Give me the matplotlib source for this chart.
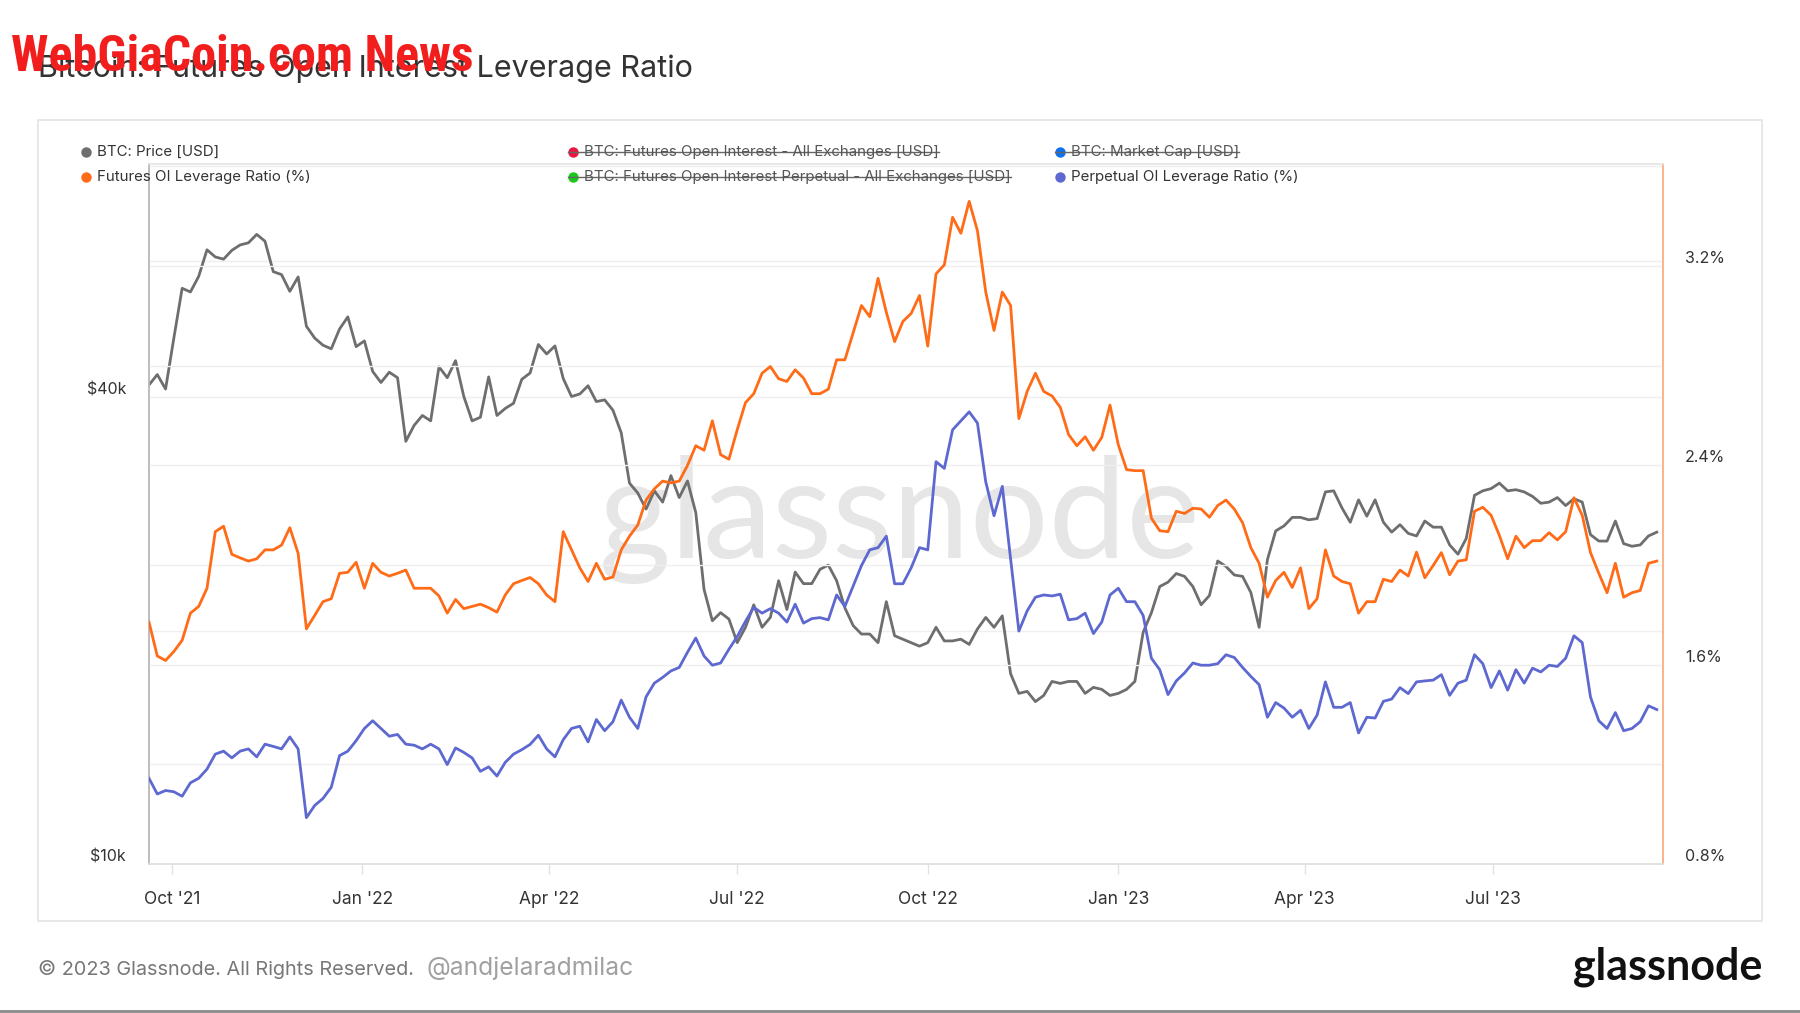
import numpy as np
import pandas as pd
import matplotlib as mpl
import matplotlib.pyplot as plt
from matplotlib.patches import Rectangle
from matplotlib.ticker import NullLocator

mpl.rcParams['font.family'] = ['Inter', 'DejaVu Sans']

# values, one sample every 4 days (2021-09-20 .. 2023-09-18)
dates = pd.date_range('2021-09-20', periods=183, freq='4D')

# BTC price [k USD]
price_k = [
    41.5, 42.8, 41.0, 47.7, 55.3, 54.7, 57.3, 62.0, 60.7, 60.3,
    61.9, 62.9, 63.3, 64.9, 63.6, 58.1, 57.6, 54.8, 57.2, 49.4,
    47.7, 46.7, 46.2, 49.0, 50.8, 46.5, 47.3, 43.2, 41.8, 43.1,
    42.4, 35.1, 36.8, 37.9, 37.3, 43.8, 42.4, 44.6, 40.1, 37.3,
    37.7, 42.5, 37.9, 38.7, 39.3, 42.2, 43.0, 46.8, 45.5, 46.6,
    42.3, 40.1, 40.4, 41.4, 39.5, 39.7, 38.5, 36.0, 31.0, 30.1,
    28.7, 30.3, 29.3, 31.7, 29.7, 31.2, 28.4, 22.6, 20.6, 21.1,
    20.7, 19.3, 20.2, 21.6, 20.2, 20.8, 23.2, 21.3, 23.8, 23.0,
    23.0, 24.0, 24.3, 23.2, 21.4, 20.3, 19.8, 19.8, 19.3, 21.8,
    19.7, 19.5, 19.3, 19.1, 19.3, 20.2, 19.4, 19.4, 19.5, 19.2,
    20.1, 20.8, 20.2, 20.9, 17.6, 16.6, 16.7, 16.2, 16.5, 17.2,
    17.1, 17.2, 17.2, 16.6, 16.9, 16.8, 16.5, 16.6, 16.8, 17.2,
    19.9, 21.1, 22.8, 23.1, 23.7, 23.5, 22.8, 21.6, 22.2, 24.6,
    24.2, 23.6, 23.5, 22.4, 20.2, 24.7, 26.9, 27.3, 28.0, 28.0,
    27.8, 27.9, 30.2, 30.3, 28.8, 27.6, 29.5, 28.1, 29.5, 27.6,
    26.8, 27.4, 26.7, 26.5, 27.7, 27.2, 27.2, 25.8, 25.1, 26.3,
    29.9, 30.3, 30.5, 31.0, 30.3, 30.4, 30.2, 29.8, 29.2, 29.3,
    29.7, 29.0, 29.6, 29.3, 26.6, 26.1, 26.1, 27.7, 25.9, 25.7,
    25.8, 26.5, 26.8,
]

# Futures OI Leverage Ratio [%]
futures_ratio = [
    1.771, 1.635, 1.617, 1.653, 1.698, 1.807, 1.834, 1.907, 2.134, 2.156,
    2.043, 2.029, 2.016, 2.025, 2.061, 2.061, 2.080, 2.150, 2.047, 1.744,
    1.798, 1.853, 1.865, 1.967, 1.971, 2.011, 1.907, 2.007, 1.971, 1.956,
    1.967, 1.980, 1.907, 1.907, 1.907, 1.876, 1.807, 1.862, 1.825, 1.834,
    1.843, 1.829, 1.811, 1.880, 1.925, 1.938, 1.950, 1.925, 1.880, 1.853,
    2.134, 2.061, 1.989, 1.934, 2.007, 1.943, 1.952, 2.061, 2.116, 2.161,
    2.261, 2.306, 2.337, 2.330, 2.337, 2.400, 2.479, 2.461, 2.579, 2.443,
    2.425, 2.543, 2.652, 2.688, 2.770, 2.797, 2.748, 2.737, 2.784, 2.751,
    2.688, 2.688, 2.706, 2.824, 2.824, 2.933, 3.042, 2.997, 3.151, 3.015,
    2.897, 2.978, 3.010, 3.082, 2.879, 3.169, 3.205, 3.396, 3.332, 3.460,
    3.342, 3.096, 2.942, 3.096, 3.042, 2.588, 2.697, 2.770, 2.697, 2.679,
    2.633, 2.524, 2.479, 2.515, 2.461, 2.512, 2.642, 2.483, 2.383, 2.379,
    2.379, 2.188, 2.138, 2.134, 2.216, 2.207, 2.228, 2.225, 2.192, 2.239,
    2.261, 2.225, 2.170, 2.070, 2.007, 1.871, 1.938, 1.971, 1.910, 1.989,
    1.825, 1.865, 2.061, 1.956, 1.934, 1.925, 1.807, 1.853, 1.853, 1.943,
    1.934, 1.980, 1.956, 2.052, 1.949, 1.998, 2.050, 1.961, 2.016, 2.021,
    2.216, 2.232, 2.200, 2.119, 2.025, 2.116, 2.070, 2.098, 2.098, 2.130,
    2.101, 2.134, 2.270, 2.200, 2.050, 1.967, 1.889, 2.007, 1.871, 1.889,
    1.898, 2.007, 2.016,
]

# Perpetual OI Leverage Ratio [%]
perp_ratio = [
    1.144, 1.081, 1.095, 1.090, 1.072, 1.126, 1.144, 1.181, 1.241, 1.253,
    1.226, 1.253, 1.262, 1.230, 1.281, 1.272, 1.262, 1.310, 1.262, 0.986,
    1.035, 1.063, 1.108, 1.235, 1.253, 1.295, 1.344, 1.375, 1.344, 1.313,
    1.320, 1.281, 1.277, 1.262, 1.281, 1.262, 1.199, 1.266, 1.248, 1.226,
    1.172, 1.190, 1.153, 1.208, 1.241, 1.259, 1.280, 1.317, 1.262, 1.230,
    1.299, 1.344, 1.353, 1.290, 1.380, 1.335, 1.371, 1.458, 1.389, 1.344,
    1.471, 1.526, 1.549, 1.575, 1.589, 1.650, 1.707, 1.635, 1.598, 1.607,
    1.662, 1.713, 1.774, 1.830, 1.807, 1.825, 1.807, 1.771, 1.843, 1.767,
    1.785, 1.789, 1.780, 1.880, 1.834, 1.916, 1.998, 2.061, 2.070, 2.116,
    1.925, 1.925, 1.989, 2.070, 2.061, 2.415, 2.388, 2.543, 2.579, 2.615,
    2.570, 2.334, 2.198, 2.316, 2.025, 1.735, 1.816, 1.871, 1.880, 1.876,
    1.883, 1.780, 1.785, 1.807, 1.725, 1.771, 1.880, 1.907, 1.853, 1.853,
    1.798, 1.626, 1.580, 1.480, 1.535, 1.567, 1.607, 1.598, 1.598, 1.604,
    1.640, 1.629, 1.589, 1.553, 1.520, 1.389, 1.448, 1.426, 1.389, 1.417,
    1.344, 1.398, 1.531, 1.429, 1.429, 1.448, 1.326, 1.389, 1.386, 1.453,
    1.462, 1.508, 1.484, 1.531, 1.535, 1.538, 1.560, 1.477, 1.526, 1.538,
    1.640, 1.604, 1.508, 1.575, 1.498, 1.580, 1.526, 1.586, 1.571, 1.598,
    1.593, 1.626, 1.716, 1.689, 1.470, 1.375, 1.344, 1.408, 1.335, 1.344,
    1.371, 1.435, 1.420,
]

xtick_dates = pd.to_datetime(['2021-10-01', '2022-01-01', '2022-04-01', '2022-07-01',
                              '2022-10-01', '2023-01-01', '2023-04-01', '2023-07-01'])
xtick_labels = ["Oct '21", "Jan '22", "Apr '22", "Jul '22",
                "Oct '22", "Jan '23", "Apr '23", "Jul '23"]
price_ticks = [10, 20, 40, 60]
price_labels = ['$10k', '', '$40k', '']
pct_ticks = [0.8, 1.2, 1.6, 2.0, 2.4, 2.8, 3.2, 3.6]
pct_labels = ['0.8%', '', '1.6%', '', '2.4%', '', '3.2%', '']

legend_items = [
    ('BTC: Price [USD]', '#6e6e6e', False),
    ('Futures OI Leverage Ratio (%)', '#ff6b17', False),
    ('BTC: Futures Open Interest - All Exchanges [USD]', '#e8173f', True),
    ('BTC: Futures Open Interest Perpetual - All Exchanges [USD]', '#19c819', True),
    ('BTC: Market Cap [USD]', '#1170f0', True),
    ('Perpetual OI Leverage Ratio (%)', '#5d68d0', False),
]

c_price = '#6e6e6e'
c_fut = '#ff6b17'
c_perp = '#5d68d0'
grid_c = '#efefef'
W, H = 1800, 1013

fig = plt.figure(figsize=(18, 10.13), dpi=100)
fig.patch.set_facecolor('white')

ax = fig.add_axes([149 / W, 1 - 864 / H, (1663 - 149) / W, (864 - 164) / H])
ax2 = ax.twinx()

# glassnode watermark behind the lines
ax.text(0.5, 1 - 558 / H, 'glassnode', transform=fig.transFigure, ha='center',
        va='baseline', fontsize=100, color='#e6e6e6', family=['Lato', 'DejaVu Sans'], zorder=0)

ax.plot(dates, price_k, color=c_price, lw=2.0, zorder=3)
ax2.plot(dates, futures_ratio, color=c_fut, lw=2.0, zorder=3)
ax2.plot(dates, perp_ratio, color=c_perp, lw=2.0, zorder=3)

ax.set_yscale('log')
ax.set_ylim(10, 80)
ax.set_yticks(price_ticks)
ax.set_yticklabels(price_labels)
ax.yaxis.set_minor_locator(NullLocator())
ax2.set_ylim(0.8, 3.61)
ax2.set_yticks(pct_ticks)
ax2.set_yticklabels(pct_labels)
ax.set_xlim(pd.Timestamp('2021-09-20'), pd.Timestamp('2023-09-21'))
ax.set_xticks(xtick_dates)
ax.set_xticklabels(xtick_labels)

ax.grid(axis='y', color=grid_c, lw=1.0)
ax2.grid(axis='y', color=grid_c, lw=1.0)
ax.set_axisbelow(True)
ax2.set_axisbelow(True)

ax.tick_params(axis='y', length=0, pad=16.5, labelsize=11.5, labelcolor='#333333')
ax2.tick_params(axis='y', length=0, pad=16, labelsize=11.5, labelcolor='#333333')
ax.tick_params(axis='x', length=7, width=1, color='#e2e2e2', pad=12.5, labelsize=12.5,
               labelcolor='#333333')
for t in ax.get_yticklabels() + ax2.get_yticklabels():
    t.set_va('bottom')

for a in (ax, ax2):
    a.spines['top'].set_color('#e8e8e8')
    a.spines['bottom'].set_color('#e2e2e2')
    a.spines['left'].set_color('#bdbdbd')
    a.spines['right'].set_color('#f9b48a')
    for s in a.spines.values():
        s.set_linewidth(1.2)

# overlay for frame, texts and legend, in pixel coordinates
ov = fig.add_axes([0, 0, 1, 1], zorder=10)
ov.set_xlim(0, W)
ov.set_ylim(H, 0)
ov.set_axis_off()
ov.patch.set_alpha(0)

ov.add_patch(Rectangle((38, 120), 1762 - 38, 921 - 120, fill=False, ec='#e3e3e3', lw=1.2))
ov.text(38, 77, 'Bitcoin: Futures Open Interest Leverage Ratio', fontsize=22,
        color='#333333', va='baseline')
ov.text(11, 71, 'WebGiaCoin.com News', fontsize=36, color='#f21d1d', weight='bold',
        va='baseline',
        family=['Roboto Condensed', 'Liberation Sans Narrow', 'Roboto', 'DejaVu Sans'])

col_x = [86, 573, 1060]
row_y = [151.5, 176.5]
texts = []
for i, (lbl, col, struck) in enumerate(legend_items):
    x = col_x[i // 2]
    y = row_y[i % 2]
    ov.plot([x], [y], 'o', color=col, ms=7.5, mec='none')
    t = ov.text(x + 11, y, lbl, fontsize=10.8, va='center',
                color='#555555' if struck else '#333333')
    texts.append((t, x, y, struck))

ov.text(38, 969, '\u00a9 2023 Glassnode. All Rights Reserved.', fontsize=14.3,
        color='#777777', va='center')
ov.text(427, 968, '@andjelaradmilac', fontsize=17.7, color='#a0a0a0', va='center')
ov.text(1762, 967, 'glassnode', fontsize=31, color='#111111', va='center', ha='right',
        weight='bold', family=['Lato', 'DejaVu Sans'])
ov.plot([0, W], [1011, 1011], color='#8a8a8a', lw=2)

fig.canvas.draw()
r = fig.canvas.get_renderer()
for t, x, y, struck in texts:
    if struck:
        bb = t.get_window_extent(r)
        ov.plot([x - 5, bb.x1], [y, y], color='#666666', lw=1.0)

fig.savefig('out.png', dpi=100)
